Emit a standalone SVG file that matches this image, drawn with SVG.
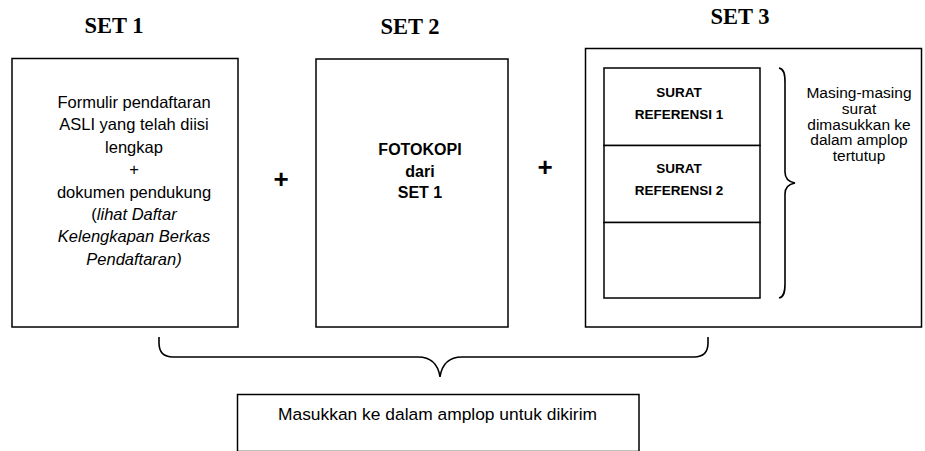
<svg xmlns="http://www.w3.org/2000/svg" width="925" height="451" viewBox="0 0 925 451">
<style>
.box{fill:#fff;stroke:#000;stroke-width:1.5}
.ln{fill:none;stroke:#000;stroke-width:1.6}
.hd{font-family:"Liberation Serif","Times New Roman",serif;font-weight:bold;font-size:22.5px;text-anchor:middle;fill:#000}
.t{font-family:"Liberation Sans",Arial,sans-serif;font-size:16.5px;text-anchor:middle;fill:#000}
.i{font-style:italic}
.b{font-family:"Liberation Sans",Arial,sans-serif;font-weight:bold;text-anchor:middle;fill:#000}
.s{font-family:"Liberation Sans",Arial,sans-serif;font-size:15.5px;text-anchor:middle;fill:#000}
</style>
<rect width="925" height="451" fill="#fff"/>
<g id="set1">
<text class="hd" x="114" y="33">SET 1</text>
<rect class="box" x="12" y="58.5" width="226" height="268.5"/>
<text class="t" x="134" y="108">Formulir pendaftaran</text>
<text class="t" x="134" y="130.4">ASLI yang telah diisi</text>
<text class="t" x="134" y="152.8">lengkap</text>
<text class="t" x="134" y="175.2">+</text>
<text class="t" x="134" y="197.6">dokumen pendukung</text>
<text class="t" x="134" y="220">(<tspan class="i">lihat Daftar</tspan></text>
<text class="t i" x="134" y="242.4">Kelengkapan Berkas</text>
<text class="t i" x="134" y="264.8">Pendaftaran)</text>
</g>
<g id="plus1"><text class="b" x="281" y="188" font-size="26">+</text></g>
<g id="set2">
<text class="hd" x="410" y="34">SET 2</text>
<rect class="box" x="316" y="59" width="192" height="268"/>
<text class="b" x="420" y="155" font-size="16">FOTOKOPI</text>
<text class="b" x="420" y="177" font-size="16">dari</text>
<text class="b" x="420" y="198" font-size="16">SET 1</text>
</g>
<g id="plus2"><text class="b" x="545" y="175.5" font-size="26">+</text></g>
<g id="set3">
<text class="hd" x="740" y="24">SET 3</text>
<rect class="box" x="585.5" y="48.5" width="336" height="278.5"/>
<g id="ref1">
<rect class="box" x="604" y="68" width="156" height="77.5"/>
<text class="b" x="679" y="97" font-size="13.5">SURAT</text>
<text class="b" x="679" y="119" font-size="13.5">REFERENSI 1</text>
</g>
<g id="ref2">
<rect class="box" x="604" y="145.5" width="156" height="77"/>
<text class="b" x="679" y="173" font-size="13.5">SURAT</text>
<text class="b" x="679" y="195" font-size="13.5">REFERENSI 2</text>
</g>
<g id="ref3">
<rect class="box" x="604" y="222.5" width="156" height="75.5"/>
</g>
<g id="note">
<text class="s" x="859" y="98">Masing-masing</text>
<text class="s" x="859" y="113.8">surat</text>
<text class="s" x="859" y="129.6">dimasukkan ke</text>
<text class="s" x="859" y="145.4">dalam amplop</text>
<text class="s" x="859" y="161.2">tertutup</text>
</g>
</g>
<g id="final">
<rect class="box" x="237.5" y="394.5" width="401.5" height="57"/>
<text class="t" x="437.5" y="420" font-size="17.4px" style="font-size:17.4px">Masukkan ke dalam amplop untuk dikirim</text>
</g>
<g id="connectors">
<path class="ln" d="M779,68 C784,69 785,74 785,82 L785,172 C785,179 789,182 795,183 C789,184 785,187 785,194 L785,284 C785,292 784,297 779,298"/>
<path class="ln" d="M159,337 L159,343 Q159,357 173,357 L418,357 Q437,357 440,377 Q443,357 462,357 L694,357 Q708,357 708,343 L708,337"/>
</g>
</svg>
